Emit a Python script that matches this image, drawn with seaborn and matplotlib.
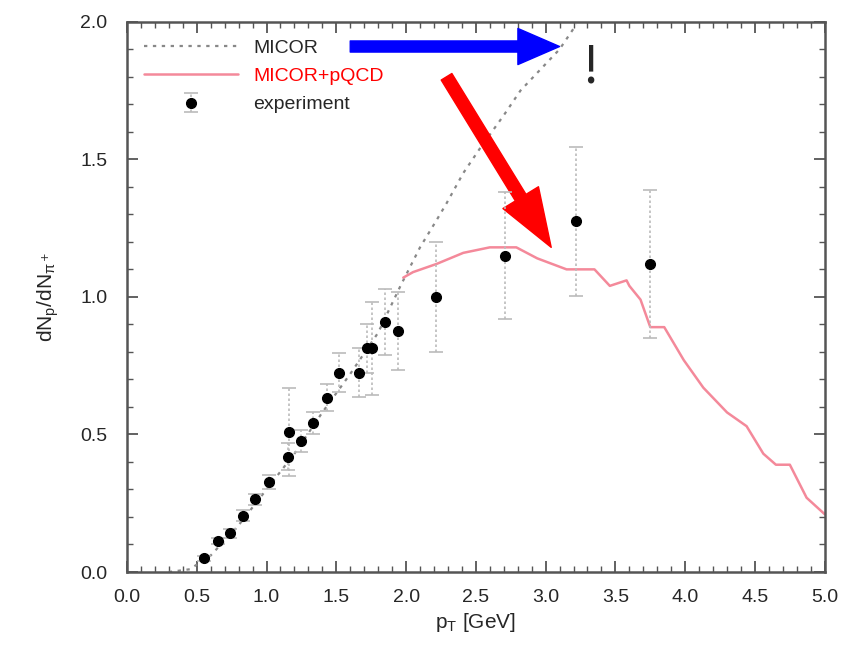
import numpy as np
import pandas as pd
import matplotlib
matplotlib.use("Agg")
import matplotlib.pyplot as plt
from matplotlib.ticker import MultipleLocator
import seaborn as sns

# MICOR (dotted gray)
micor_x = [0.30, 0.45, 0.60, 0.80, 1.00, 1.20, 1.40, 1.60, 1.80, 1.96, 2.03, 2.10, 2.22, 2.29, 2.41, 2.53, 2.70, 2.82, 3.10, 3.22]
micor_y = [0.00, 0.01, 0.06, 0.17, 0.30, 0.43, 0.58, 0.72, 0.87, 1.04, 1.11, 1.18, 1.28, 1.34, 1.45, 1.54, 1.66, 1.75, 1.90, 1.99]

# MICOR+pQCD (pink)
pqcd_x = [1.98, 2.05, 2.22, 2.41, 2.60, 2.79, 2.94, 3.15, 3.35, 3.46, 3.58, 3.60, 3.68, 3.75, 3.85, 3.99, 4.13, 4.30, 4.44, 4.56, 4.65, 4.75, 4.87, 5.00]
pqcd_y = [1.07, 1.09, 1.12, 1.16, 1.18, 1.18, 1.14, 1.10, 1.10, 1.04, 1.06, 1.04, 0.99, 0.89, 0.89, 0.77, 0.67, 0.58, 0.53, 0.43, 0.39, 0.39, 0.27, 0.21]

# experiment
exp_x = [0.55, 0.65, 0.74, 0.83, 0.92, 1.015, 1.156, 1.16, 1.246, 1.335, 1.43, 1.52, 1.664, 1.717, 1.753, 1.848, 1.939, 2.213, 2.71, 3.22, 3.75]
exp_y = [0.050, 0.113, 0.14, 0.204, 0.265, 0.328, 0.419, 0.51, 0.477, 0.54, 0.634, 0.725, 0.725, 0.813, 0.813, 0.908, 0.876, 0.999, 1.15, 1.275, 1.12]
exp_err = [0.01, 0.01, 0.015, 0.02, 0.02, 0.025, 0.05, 0.16, 0.04, 0.04, 0.05, 0.07, 0.09, 0.09, 0.17, 0.12, 0.14, 0.20, 0.23, 0.27, 0.27]

sns.set_style("ticks")
plt.rcParams['font.family'] = ['Liberation Sans', 'DejaVu Sans']

fig = plt.figure(figsize=(8.52, 6.59), dpi=100)
ax = fig.add_axes([0.149, 0.132, 0.819, 0.835])

micor = pd.DataFrame({'x': micor_x, 'y': micor_y})
pqcd = pd.DataFrame({'x': pqcd_x, 'y': pqcd_y})

sns.lineplot(data=micor, x='x', y='y', ax=ax, color='#888888', linestyle=(0, (1.5, 2.5)),
             linewidth=1.6, label='MICOR', sort=False)
sns.lineplot(data=pqcd, x='x', y='y', ax=ax, color='#f4899a', linewidth=1.8,
             label='MICOR+pQCD', sort=False)
eb = ax.errorbar(exp_x, exp_y, yerr=exp_err, fmt='o', color='black', markersize=7,
                 ecolor='#bbbbbb', elinewidth=1.2, capsize=5, capthick=1.2,
                 label='experiment', zorder=5)
eb[-1][0].set_linestyle((0, (1.5, 1.5)))

ax.set_xlim(0, 5.0)
ax.set_ylim(0, 2.0)
ax.xaxis.set_major_locator(MultipleLocator(0.5))
ax.xaxis.set_minor_locator(MultipleLocator(0.1))
ax.yaxis.set_major_locator(MultipleLocator(0.5))
ax.yaxis.set_minor_locator(MultipleLocator(0.1))
ax.xaxis.set_major_formatter(matplotlib.ticker.FormatStrFormatter('%.1f'))
ax.yaxis.set_major_formatter(matplotlib.ticker.FormatStrFormatter('%.1f'))
ax.tick_params(which='both', direction='in', top=True, right=True, color='#555555', labelsize=14)
ax.tick_params(axis='x', which='major', pad=12)
ax.tick_params(axis='y', which='major', pad=14)
ax.tick_params(which='major', length=8, width=1.3)
ax.tick_params(which='minor', length=4, width=1.0)
for s in ax.spines.values():
    s.set_color('#555555')
    s.set_linewidth(1.8)

ax.set_xlabel('p$_\\mathregular{T}$ [GeV]', fontsize=15, labelpad=4)
ax.set_ylabel('dN$_\\mathregular{p}$/dN$_{\\mathregular{\\pi}^+}$', fontsize=15, labelpad=14)

leg = ax.legend(loc='upper left', frameon=False, fontsize=14, handlelength=4.8,
                borderaxespad=0.5, labelspacing=0.55, handletextpad=0.8)
for t in leg.get_texts():
    if t.get_text() == 'MICOR+pQCD':
        t.set_color('red')

ax.annotate('', xy=(3.1, 1.91), xytext=(1.6, 1.91),
            arrowprops=dict(facecolor='blue', edgecolor='blue', width=8, headwidth=26, headlength=30))
ax.annotate('', xy=(3.04, 1.18), xytext=(2.29, 1.80),
            arrowprops=dict(facecolor='red', edgecolor='red', width=9, headwidth=30, headlength=42))
ax.text(3.32, 1.83, '!', fontsize=40, family='Liberation Serif', ha='center', va='center')

fig.savefig('out.png', dpi=100)
